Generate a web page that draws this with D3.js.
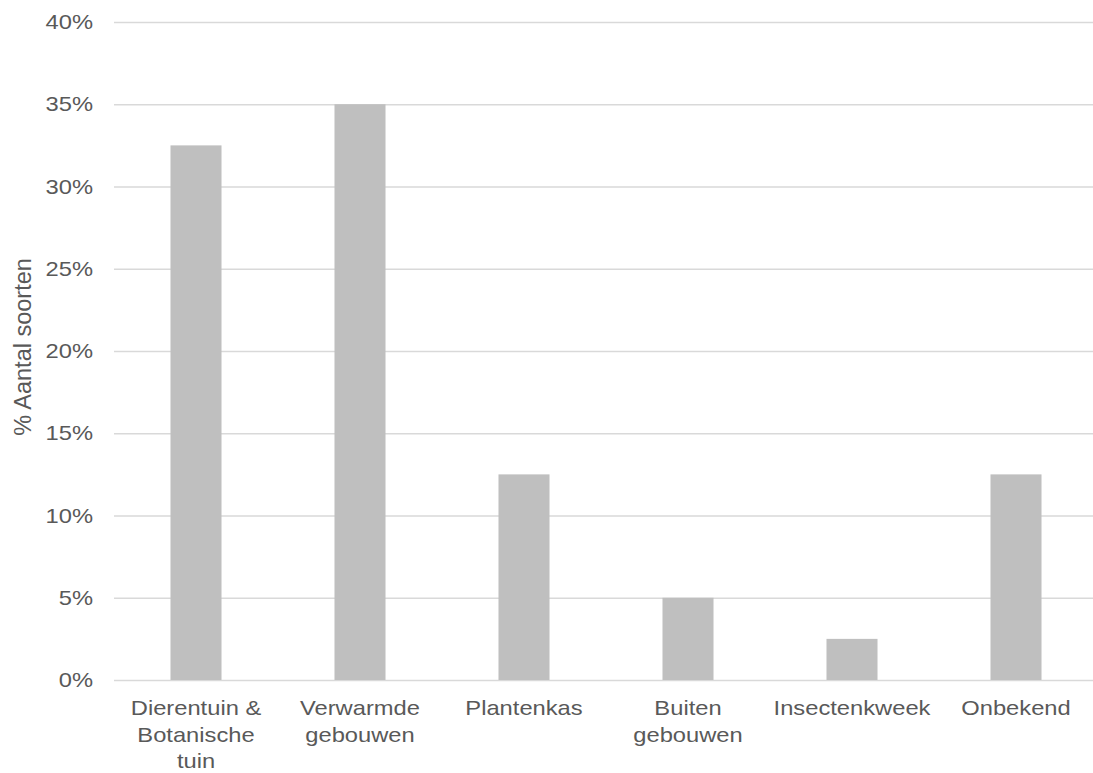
<!DOCTYPE html>
<html>
<head>
<meta charset="utf-8">
<script src="https://cdn.jsdelivr.net/npm/d3@7"></script>
<style>
  html, body { margin: 0; padding: 0; background: #fff; overflow: hidden; }
  svg { display: block; font-family: "Liberation Sans", Arial, sans-serif; }
</style>
</head>
<body>
<svg id="chart" width="1093" height="773"></svg>
<script>
// Share of species per location where they were found
const categories = ["Dierentuin & Botanische tuin", "Verwarmde gebouwen", "Plantenkas", "Buiten gebouwen", "Insectenkweek", "Onbekend"];
const values = [32.5, 35, 12.5, 5, 2.5, 12.5];
const yTicks = [0, 5, 10, 15, 20, 25, 30, 35, 40];
const yTitle = "% Aantal soorten";

const svg = d3.select("#chart");
const plot = { left: 114, right: 1098, top: 22, bottom: 680 };
const textColor = "#595959";
const fontSize = 21;
const stretch = 1.13; // labels are set slightly wide

const x = d3.scaleBand()
  .domain(categories)
  .range([plot.left, plot.right])
  .paddingInner(0.689)
  .paddingOuter(0.3445);

const y = d3.scaleLinear()
  .domain([0, 40])
  .range([plot.bottom, plot.top]);

// Horizontal gridlines with percentage labels
const yAxis = d3.axisLeft(y)
  .tickValues(yTicks)
  .tickFormat(d => d + "%")
  .tickSize(-(plot.right - plot.left))
  .tickPadding(21);

const gy = svg.append("g")
  .attr("transform", `translate(${plot.left},0)`)
  .call(yAxis);
gy.select(".domain").remove();
gy.selectAll(".tick line").attr("stroke", "#d9d9d9").attr("stroke-width", 1.5);
gy.selectAll(".tick text")
  .attr("fill", textColor)
  .attr("x", 0)
  .attr("transform", `translate(-21,0) scale(${stretch},1)`)
  .style("font-size", fontSize + "px")
  .style("font-family", "'Liberation Sans', Arial, sans-serif");

// Bars
svg.append("g")
  .selectAll("rect")
  .data(values)
  .join("rect")
  .attr("x", (d, i) => x(categories[i]))
  .attr("width", x.bandwidth())
  .attr("y", d => y(d))
  .attr("height", d => y(0) - y(d))
  .attr("fill", "#bfbfbf");

// Category labels, wrapped to fit each band
const xAxis = d3.axisBottom(x).tickSize(0).tickPadding(0);
const gx = svg.append("g")
  .attr("transform", `translate(0,${plot.bottom})`)
  .call(xAxis);
gx.select(".domain").remove();
gx.selectAll(".tick text")
  .attr("fill", textColor)
  .attr("transform", `scale(${stretch},1)`)
  .style("font-size", fontSize + "px")
  .style("font-family", "'Liberation Sans', Arial, sans-serif")
  .each(function(label) {
    const t = d3.select(this);
    const words = label.split(/\s+/);
    const maxW = 135;
    t.text(null).attr("y", 0).attr("dy", null);
    let lines = [];
    let line = [];
    const probe = t.append("tspan");
    words.forEach(w => {
      line.push(w);
      probe.text(line.join(" "));
      if (probe.node().getComputedTextLength() > maxW && line.length > 1) {
        line.pop();
        lines.push(line.join(" "));
        line = [w];
      }
    });
    lines.push(line.join(" "));
    probe.remove();
    lines.forEach((l, i) => {
      t.append("tspan")
        .attr("x", 0)
        .attr("y", 35 + i * 26.7)
        .text(l);
    });
  });

// Vertical axis title
svg.append("text")
  .attr("transform", `translate(31,347) rotate(-90)`)
  .attr("text-anchor", "middle")
  .attr("fill", textColor)
  .style("font-size", "23.5px")
  .text(yTitle);
</script>
</body>
</html>
